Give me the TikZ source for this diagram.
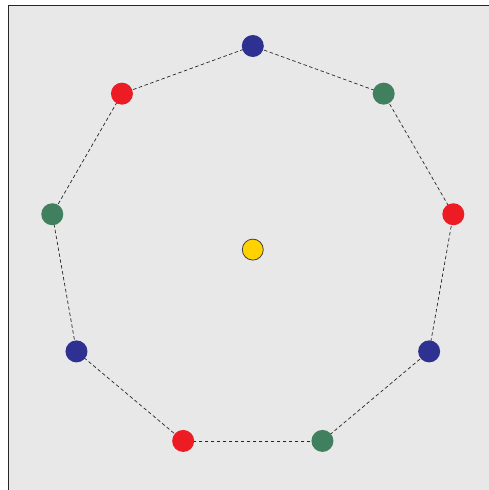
\documentclass[tikz,border=0pt]{standalone}
\definecolor{bgc}{HTML}{E7E8E7}
\definecolor{dblue}{HTML}{2E3192}
\definecolor{dgreen}{HTML}{40805E}
\definecolor{dred}{HTML}{ED1C24}
\definecolor{dyellow}{HTML}{FFD200}
\tikzset{
  dot/.style={circle, minimum size=22pt, inner sep=0pt, draw=none},
  bluedot/.style={dot, fill=dblue},
  greendot/.style={dot, fill=dgreen},
  reddot/.style={dot, fill=dred},
  hubdot/.style={circle, minimum size=21pt, inner sep=0pt, fill=dyellow, draw=black!75, line width=0.8pt},
  edge/.style={draw=black!85, line width=0.7pt, dash pattern=on 3.5pt off 2.5pt}
}
\begin{document}
\begin{tikzpicture}[x=1pt,y=-1pt]
\useasboundingbox (0,0) rectangle (489,490);
\fill[bgc] (8,5) rectangle (489,490);
\draw[black!85, line width=1pt] (8,490) -- (8,5) -- (489,5);
\foreach \i in {0,...,8}{
  \pgfmathsetmacro{\ang}{\i*40}
  \coordinate (c\i) at ({252.8+203.6*sin(\ang)},{249.6-203.6*cos(\ang)});
}
\foreach \i/\j in {0/1,1/2,2/3,3/4,4/5,5/6,6/7,7/8,8/0}{
  \draw[edge] (c\i) -- (c\j);
}
\node[bluedot] (n0) at (c0) {};
\node[greendot] (n1) at (c1) {};
\node[reddot] (n2) at (c2) {};
\node[bluedot] (n3) at (c3) {};
\node[greendot] (n4) at (c4) {};
\node[reddot] (n5) at (c5) {};
\node[bluedot] (n6) at (c6) {};
\node[greendot] (n7) at (c7) {};
\node[reddot] (n8) at (c8) {};
\node[hubdot] (hub) at (252.8,249.6) {};
\end{tikzpicture}
\end{document}
